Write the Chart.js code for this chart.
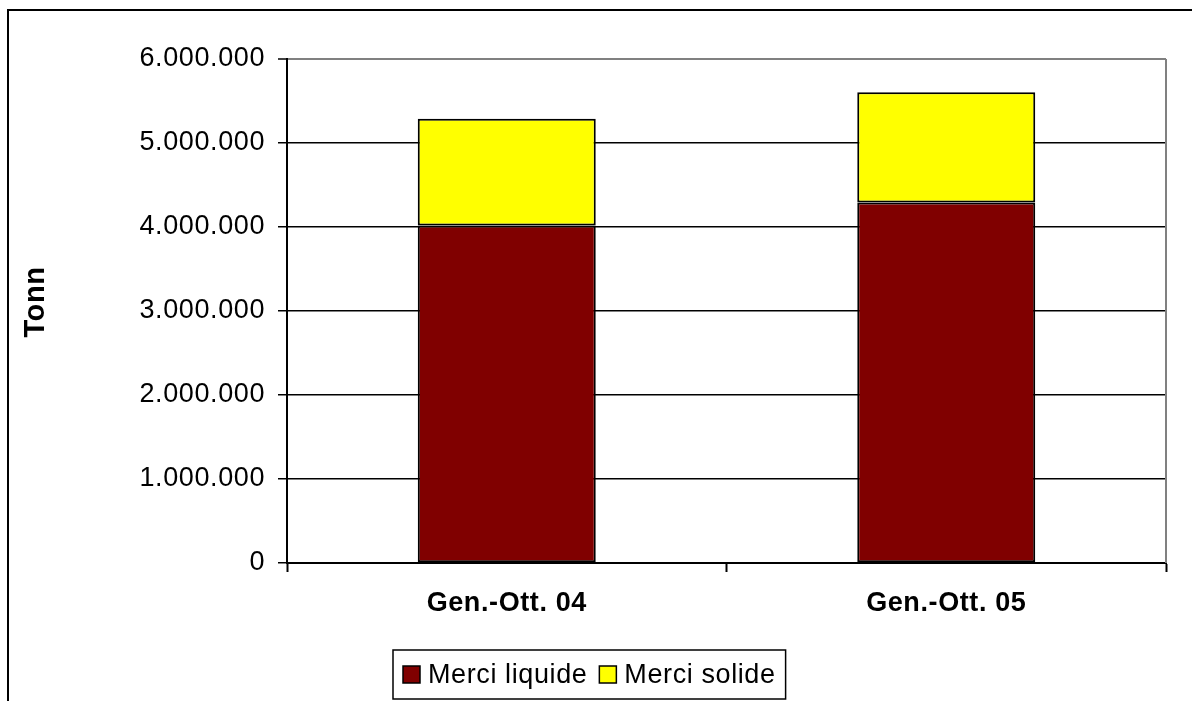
<!DOCTYPE html>
<html>
<head>
<meta charset="utf-8">
<title>Merci liquide e solide</title>
<script src="https://cdn.jsdelivr.net/npm/chart.js@4/dist/chart.umd.min.js"></script>
<style>
  html, body { margin: 0; padding: 0; background: #fff; }
  canvas { display: block; }
</style>
</head>
<body>
<canvas id="chart" width="1192" height="701"></canvas>
<script>
// Periods shown on the x axis
const categories = ['Gen.-Ott. 04', 'Gen.-Ott. 05'];
// Tonnage per period
const merciLiquide = [4018000, 4292000];
const merciSolide = [1272000, 1312000];
// Value axis range
const yMin = 0;
const yMax = 6000000;
const yStep = 1000000;
// Value axis title
const yTitle = 'Tonn';

const FONT = '"Liberation Sans", Arial, sans-serif';
const SPACING = '0.6px';

function formatThousands(v) {
  return String(Math.round(v)).replace(/\B(?=(\d{3})+(?!\d))/g, '.');
}

// Slightly wider glyph spacing for all canvas text
const spacingPlugin = {
  id: 'spacing',
  beforeInit(chart) { chart.ctx.letterSpacing = SPACING; },
  beforeLayout(chart) { chart.ctx.letterSpacing = SPACING; },
  beforeDraw(chart) { chart.ctx.letterSpacing = SPACING; }
};

// Outer frame, right plot border, axis title and the boxed legend
const decorPlugin = {
  id: 'decor',
  afterDraw(chart) {
    const ctx = chart.ctx;
    const area = chart.chartArea;
    ctx.save();
    ctx.letterSpacing = SPACING;

    // frame of the whole chart
    ctx.strokeStyle = '#000';
    ctx.lineWidth = 2;
    ctx.beginPath();
    ctx.moveTo(8, 701);
    ctx.lineTo(8, 10);
    ctx.lineTo(1192, 10);
    ctx.stroke();

    // right border of the plot
    ctx.strokeStyle = '#808080';
    ctx.lineWidth = 2;
    ctx.beginPath();
    ctx.moveTo(area.right, area.top);
    ctx.lineTo(area.right, area.bottom);
    ctx.stroke();

    // rotated value-axis title
    ctx.save();
    ctx.translate(36, 302);
    ctx.rotate(-Math.PI / 2);
    ctx.font = 'bold 29px ' + FONT;
    ctx.fillStyle = '#000';
    ctx.textAlign = 'center';
    ctx.textBaseline = 'middle';
    ctx.fillText(yTitle, 0, 0);
    ctx.restore();

    // legend
    ctx.font = '27px ' + FONT;
    ctx.textBaseline = 'middle';
    ctx.textAlign = 'left';
    const boxLeft = 393, boxTop = 650, boxBottom = 699;
    const midY = (boxTop + boxBottom) / 2;
    let x = boxLeft + 10;
    chart.data.datasets.forEach((ds, i) => {
      ctx.fillStyle = ds.backgroundColor;
      ctx.fillRect(x, midY - 8.5, 17, 17);
      ctx.strokeStyle = '#000';
      ctx.lineWidth = 1.5;
      ctx.strokeRect(x, midY - 8.5, 17, 17);
      x += 25;
      ctx.fillStyle = '#000';
      ctx.fillText(ds.label, x, midY + 1);
      x += ctx.measureText(ds.label).width + (i < chart.data.datasets.length - 1 ? 12 : 10);
    });
    ctx.strokeStyle = '#000';
    ctx.lineWidth = 1.5;
    ctx.strokeRect(boxLeft, boxTop, x - boxLeft, boxBottom - boxTop);
    ctx.restore();
  }
};

new Chart(document.getElementById('chart'), {
  type: 'bar',
  data: {
    labels: categories,
    datasets: [
      {
        label: 'Merci liquide',
        data: merciLiquide,
        backgroundColor: '#800000',
        borderColor: '#000',
        borderWidth: 2,
        borderSkipped: false
      },
      {
        label: 'Merci solide',
        data: merciSolide,
        backgroundColor: '#ffff00',
        borderColor: '#000',
        borderWidth: 2,
        borderSkipped: false
      }
    ]
  },
  options: {
    responsive: false,
    animation: false,
    devicePixelRatio: 1,
    layout: { padding: { top: 59, right: 26, left: 0, bottom: 0 } },
    datasets: { bar: { categoryPercentage: 1, barPercentage: 0.405 } },
    plugins: {
      legend: { display: false },
      tooltip: { enabled: false }
    },
    scales: {
      x: {
        stacked: true,
        afterFit(scale) { scale.height = 138; },
        grid: {
          offset: true,
          drawOnChartArea: false,
          drawTicks: true,
          tickLength: 9,
          tickWidth: 2,
          tickColor: '#000'
        },
        border: { display: true, color: '#000', width: 2 },
        ticks: {
          color: '#000',
          padding: 15,
          maxRotation: 0,
          font: { family: FONT, size: 27, weight: 'bold' }
        }
      },
      y: {
        stacked: true,
        min: yMin,
        max: yMax,
        afterFit(scale) { scale.width = 287; },
        grid: {
          color: (c) => (c.tick && c.tick.value === yMax ? '#808080' : '#000'),
          lineWidth: (c) => (c.tick && c.tick.value === yMax ? 2 : 1.5),
          drawTicks: true,
          tickLength: 9,
          tickWidth: 1.5,
          tickColor: '#000'
        },
        border: { display: true, color: '#000', width: 2 },
        ticks: {
          stepSize: yStep,
          color: '#000',
          padding: 13,
          font: { family: FONT, size: 27 },
          callback: (v) => formatThousands(v)
        }
      }
    }
  },
  plugins: [spacingPlugin, decorPlugin]
});
</script>
</body>
</html>
